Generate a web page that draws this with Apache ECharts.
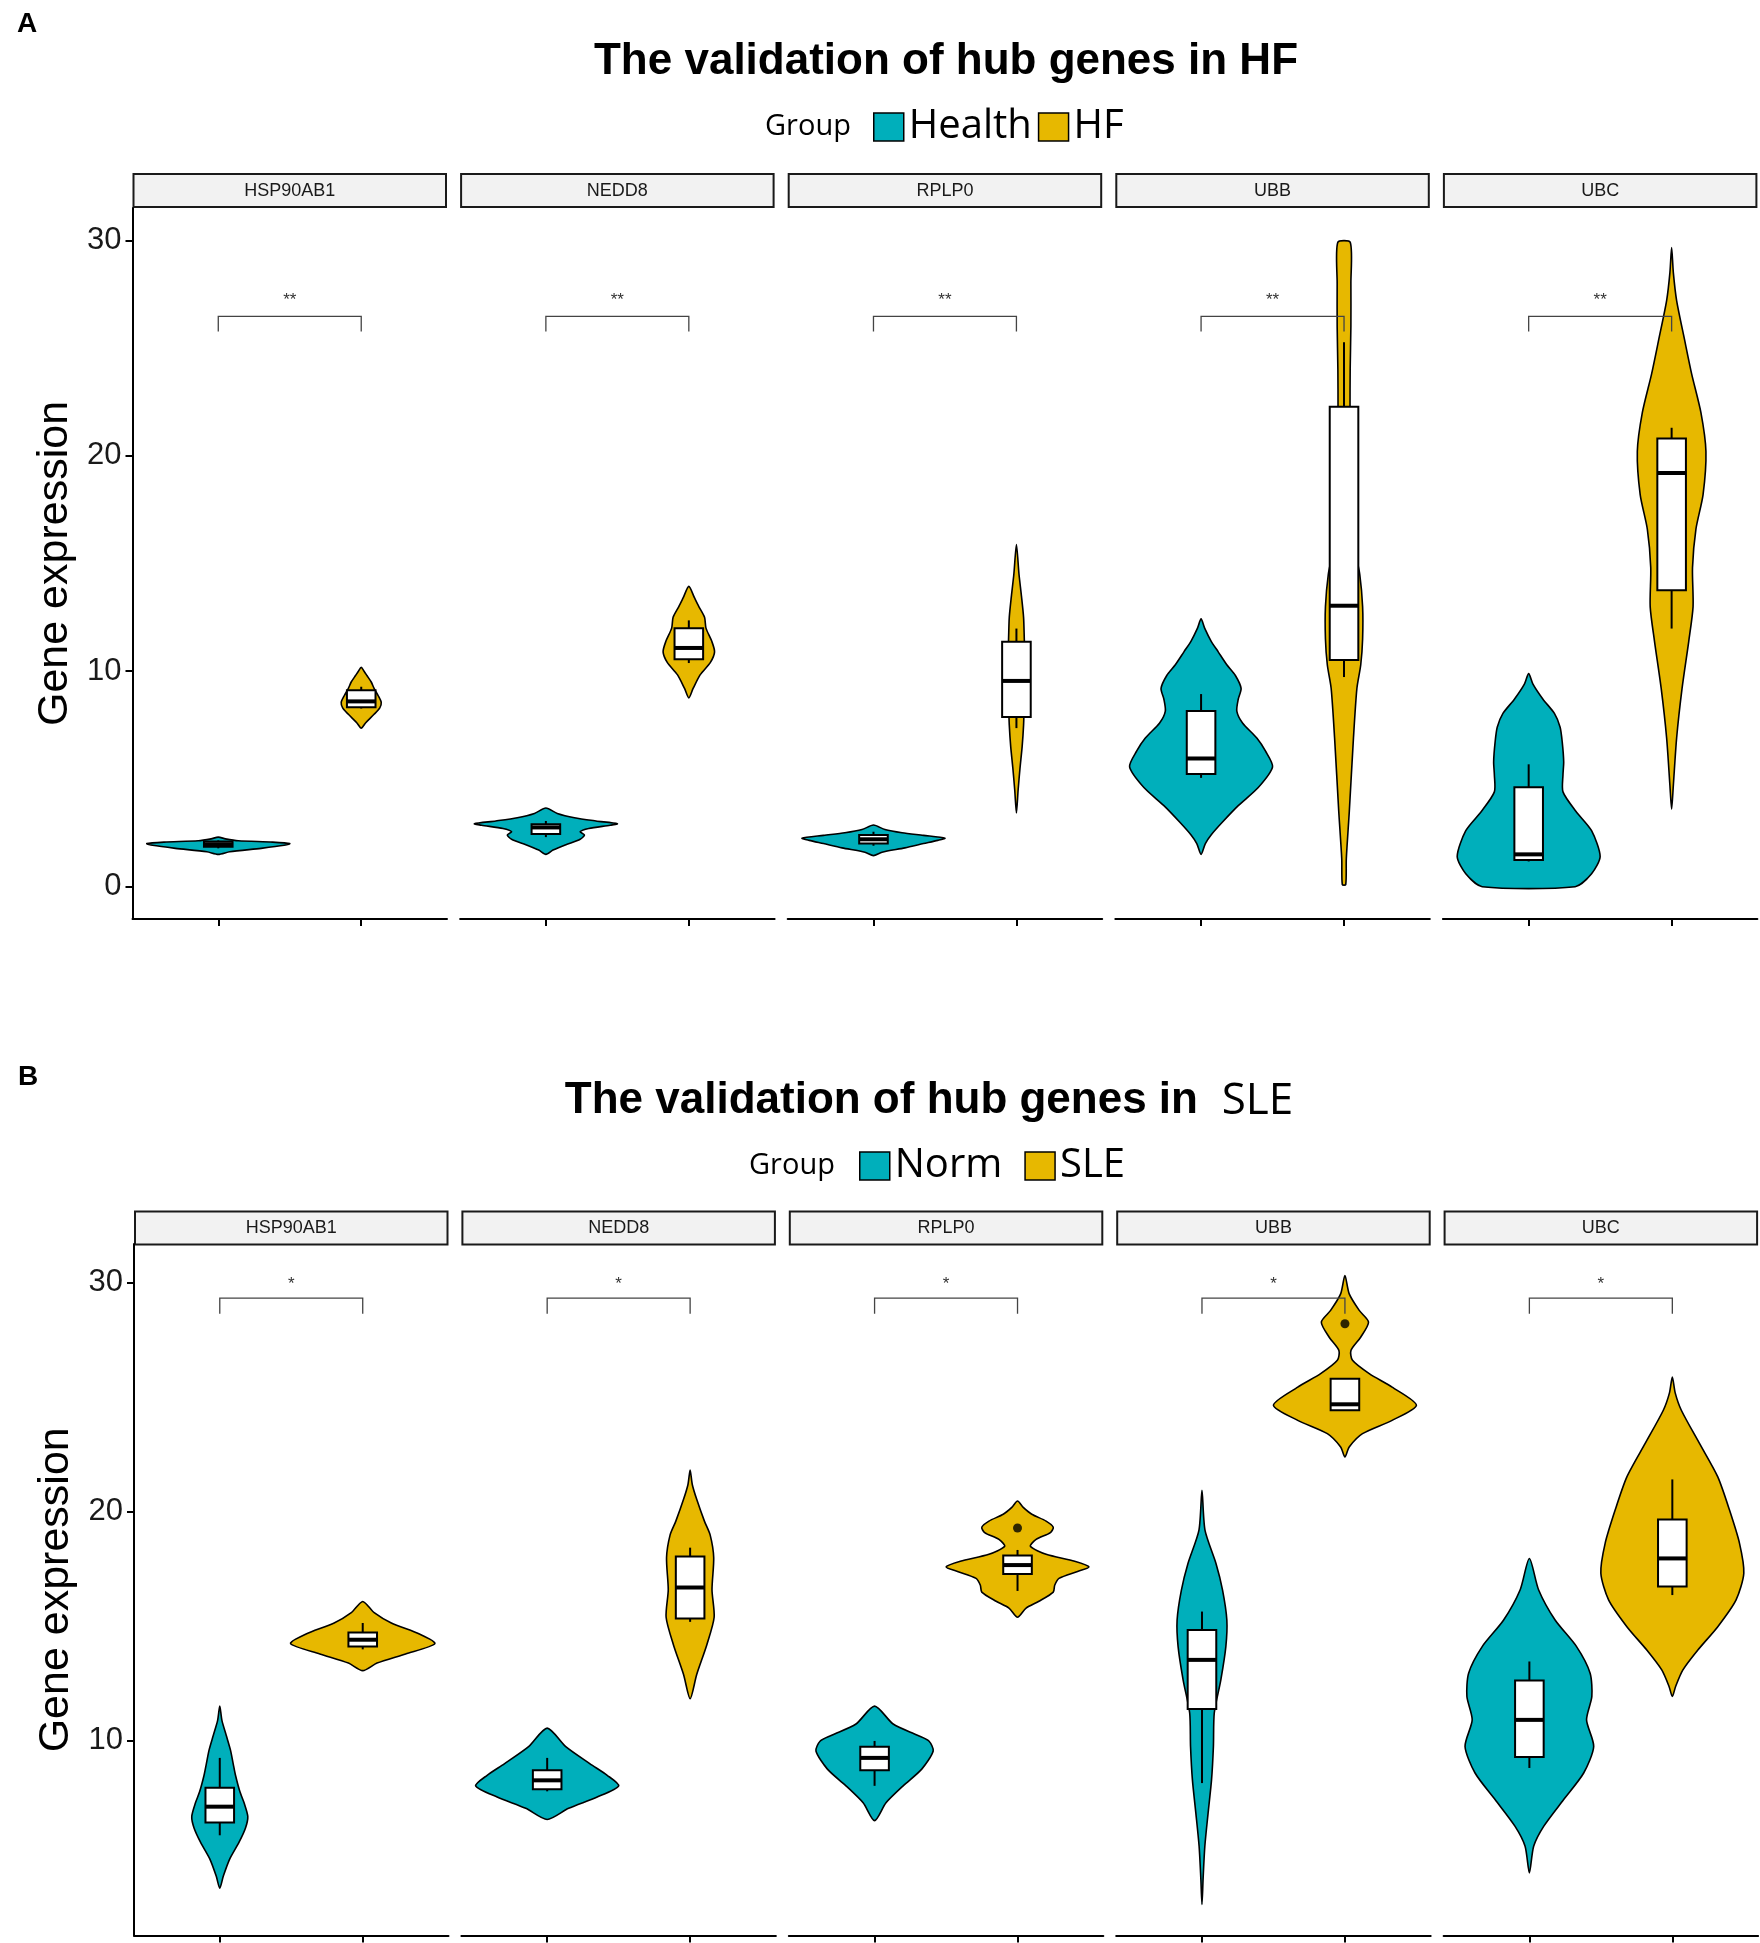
<!DOCTYPE html>
<html>
<head>
<meta charset="utf-8">
<title>The validation of hub genes</title>
<script src="https://cdn.jsdelivr.net/npm/echarts@6.0.0/dist/echarts.min.js"></script>
<style>
  html, body { margin: 0; padding: 0; background: #fff; }
  #main { width: 1760px; height: 1943px; }
</style>
</head>
<body>
<div id="main"></div>
<script>
var genes = ['HSP90AB1', 'NEDD8', 'RPLP0', 'UBB', 'UBC'];
var groupsHF = ['Health', 'HF'];
var groupsSLE = ['Norm', 'SLE'];
var ticksHF = [0, 10, 20, 30];
var ticksSLE = [10, 20, 30];
var signifHF = '**';
var signifSLE = '*';
// bracket: [leg end, bar, label]
var bracketHF = [25.77, 26.47, 27.2];
var bracketSLE = [28.65, 29.34, 29.95];

// violin outlines, bottom to top: [expression, half width in category units]
var violinHealth = [
  [[1.5,0],[1.62,0.08],[1.78,0.3],[1.92,0.46],[2.0,0.5],[2.07,0.38],[2.13,0.14],[2.22,0.05],[2.3,0]],
  [[1.5,0],[1.7,0.05],[1.95,0.14],[2.2,0.24],[2.4,0.27],[2.55,0.24],[2.7,0.3],[2.85,0.45],[2.92,0.5],[3.05,0.35],[3.2,0.2],[3.4,0.08],[3.65,0]],
  [[1.44,0],[1.6,0.06],[1.8,0.22],[2.0,0.35],[2.15,0.45],[2.25,0.5],[2.38,0.35],[2.5,0.2],[2.65,0.08],[2.86,0]],
  [[1.5,0],[2.0,0.03],[2.4,0.07],[3.0,0.15],[3.76,0.26],[4.6,0.4],[5.56,0.5],[6.3,0.45],[6.9,0.39],[7.6,0.29],[8.15,0.25],[8.7,0.26],[9.2,0.28],[9.8,0.24],[10.3,0.18],[10.9,0.12],[11.4,0.07],[12.0,0.025],[12.43,0]],
  [[0,0.325],[0.6,0.44],[1.4,0.5],[2.6,0.44],[3.5,0.33],[4.4,0.24],[5.2,0.24],[5.8,0.245],[6.7,0.235],[7.4,0.22],[8.04,0.18],[8.7,0.1],[9.4,0.03],[9.89,0]]
];
var violinHF = [
  [[7.36,0],[7.6,0.03],[8.0,0.09],[8.3,0.13],[8.55,0.14],[8.85,0.12],[9.2,0.09],[9.5,0.07],[9.8,0.04],[10.0,0.02],[10.18,0]],
  [[8.76,0],[9.2,0.03],[9.84,0.08],[10.4,0.15],[10.9,0.18],[11.4,0.16],[12.0,0.12],[12.5,0.11],[13.0,0.07],[13.4,0.04],[13.94,0]],
  [[3.42,0],[4.5,0.012],[5.5,0.025],[6.5,0.04],[7.5,0.05],[8.5,0.055],[9.5,0.06],[10.5,0.06],[11.5,0.055],[12.5,0.05],[13.5,0.035],[14.5,0.018],[15.88,0]],
  [[0.1,0.012],[1.3,0.016],[3.5,0.037],[6.9,0.066],[9.2,0.09],[10.3,0.117],[11.5,0.13],[13,0.13],[14.5,0.11],[15.5,0.08],[16.5,0.06],[18,0.05],[20,0.045],[22.2,0.042],[24,0.043],[26,0.048],[28,0.048],[29.9,0.044]],
  [[3.6,0],[4.7,0.012],[6.9,0.035],[9.2,0.073],[11.4,0.12],[13,0.15],[14.8,0.146],[16.6,0.17],[18.2,0.22],[20.2,0.24],[22,0.205],[23.8,0.14],[25.4,0.09],[27.2,0.035],[28.5,0.012],[29.66,0]]
];
var violinNorm = [
  [[3.57,0],[4.1,0.025],[4.85,0.07],[5.58,0.135],[6.2,0.18],[6.7,0.196],[7.3,0.17],[7.8,0.14],[8.5,0.11],[9.0,0.094],[9.6,0.075],[10.25,0.045],[10.9,0.015],[11.52,0]],
  [[6.57,0],[7.06,0.15],[7.55,0.35],[8.04,0.5],[8.5,0.42],[9.0,0.3],[9.75,0.13],[10.56,0]],
  [[6.52,0],[7.3,0.08],[8.04,0.2],[8.77,0.33],[9.56,0.41],[10.0,0.38],[10.25,0.3],[10.74,0.13],[11.52,0]],
  [[2.86,0],[4.0,0.008],[5.4,0.02],[6.86,0.043],[8.31,0.067],[9.76,0.08],[11.22,0.086],[12.67,0.132],[14.12,0.167],[15.28,0.174],[16.59,0.144],[17.75,0.098],[19.21,0.021],[20.95,0]],
  [[4.24,0],[5.4,0.03],[6.27,0.1],[7.44,0.24],[8.6,0.38],[9.76,0.45],[10.92,0.4],[11.94,0.437],[12.96,0.425],[14.12,0.33],[15.28,0.18],[16.59,0.065],[17.97,0]]
];
var violinSLE = [
  [[13.07,0],[13.4,0.1],[13.8,0.3],[14.25,0.505],[14.66,0.4],[15.15,0.2],[15.6,0.08],[16.09,0]],
  [[11.84,0],[12.9,0.046],[14.2,0.117],[15.4,0.168],[16.6,0.153],[18.0,0.165],[19.0,0.14],[19.6,0.1],[20.55,0.046],[21.2,0.015],[21.83,0]],
  [[15.4,0],[15.8,0.06],[16.1,0.15],[16.5,0.25],[16.8,0.26],[17.1,0.29],[17.4,0.42],[17.6,0.5],[17.85,0.4],[18.15,0.2],[18.5,0.09],[18.8,0.13],[19.1,0.23],[19.33,0.25],[19.6,0.2],[19.9,0.1],[20.2,0.04],[20.48,0]],
  [[22.4,0],[22.84,0.03],[23.42,0.123],[24.0,0.33],[24.66,0.5],[25.45,0.33],[26.04,0.17],[26.62,0.053],[27.05,0.042],[27.63,0.11],[28.29,0.165],[28.8,0.1],[29.52,0.03],[30.32,0]],
  [[11.94,0],[12.38,0.023],[13.1,0.074],[13.98,0.18],[14.99,0.318],[16.16,0.446],[17.32,0.5],[18.63,0.47],[20.08,0.4],[21.53,0.318],[22.99,0.19],[24.44,0.063],[25.2,0.02],[25.89,0]]
];

// boxes: [lower whisker, q1, median, q3, upper whisker]
var boxHealth = [[1.78,1.85,1.97,2.1,2.15],[2.3,2.45,2.75,2.9,3.05],[1.9,2.0,2.2,2.4,2.55],[5.05,5.23,5.95,8.15,8.94],[1.17,1.24,1.5,4.62,5.68]];
var boxHF = [[8.27,8.33,8.6,9.12,9.28],[10.38,10.56,11.08,12.0,12.36],[7.36,7.88,9.55,11.37,11.98],[9.73,10.52,13.04,22.27,25.27],[11.98,13.76,19.2,20.8,21.3]];
var boxNorm = [[5.88,6.44,7.13,7.96,9.26],[7.8,7.89,8.28,8.72,9.26],[8.04,8.72,9.26,9.75,10.0],[8.16,11.39,13.54,14.85,15.65],[8.82,9.3,10.92,12.64,13.47]];
var boxSLE = [[14.0,14.12,14.42,14.74,15.15],[15.2,15.35,16.7,18.05,18.44],[16.55,17.29,17.68,18.1,18.34],[24.44,24.44,24.7,25.82,25.82],[16.37,16.74,17.97,19.67,21.42]];
// outliers: [gene index, value]
var outliersSLE = [[2, 19.3], [3, 28.22]];

var teal = '#00AFBB', gold = '#E7B800';
var facetW = 314.5;

var panels = [
  { lefts: [132.5, 460.1, 787.7, 1115.3, 1442.9], top: 208, height: 711, stripTop: 174,
    min: -1.5, max: 31.5, ticks: ticksHF, groups: groupsHF,
    violins: [violinHealth, violinHF], boxes: [boxHealth, boxHF],
    signif: signifHF, bracket: bracketHF, outliers: [] },
  { lefts: [134, 461.4, 788.8, 1116.2, 1443.6], top: 1244, height: 691.6, stripTop: 1211.5,
    min: 1.5, max: 31.7, ticks: ticksSLE, groups: groupsSLE,
    violins: [violinNorm, violinSLE], boxes: [boxNorm, boxSLE],
    signif: signifSLE, bracket: bracketSLE, outliers: outliersSLE }
];

function violinItem(profile, box, xc, color) {
  return function (params, api) {
    var pts = [];
    profile.forEach(function (d) { pts.push(api.coord([xc - d[1], d[0]])); });
    for (var k = profile.length - 1; k >= 0; k--) {
      if (profile[k][1] > 0) pts.push(api.coord([xc + profile[k][1], profile[k][0]]));
    }
    var bw = 0.1;
    var tl = api.coord([xc - bw, box[3]]), br = api.coord([xc + bw, box[1]]);
    var ml = api.coord([xc - bw, box[2]]), mr = api.coord([xc + bw, box[2]]);
    var wt = api.coord([xc, box[4]]), q3 = api.coord([xc, box[3]]);
    var wb = api.coord([xc, box[0]]), q1 = api.coord([xc, box[1]]);
    return {
      type: 'group',
      children: [
        { type: 'polygon', shape: { points: pts, smooth: 0.25 },
          style: { fill: color, stroke: '#000', lineWidth: 1.6 } },
        { type: 'line', shape: { x1: wt[0], y1: wt[1], x2: q3[0], y2: q3[1] },
          style: { stroke: '#000', lineWidth: 2 } },
        { type: 'line', shape: { x1: q1[0], y1: q1[1], x2: wb[0], y2: wb[1] },
          style: { stroke: '#000', lineWidth: 2 } },
        { type: 'rect', shape: { x: tl[0], y: tl[1], width: br[0] - tl[0], height: br[1] - tl[1] },
          style: { fill: '#fff', stroke: '#000', lineWidth: 2 } },
        { type: 'line', shape: { x1: ml[0], y1: ml[1], x2: mr[0], y2: mr[1] },
          style: { stroke: '#000', lineWidth: 4 } }
      ]
    };
  };
}

function bracketItem(br, label) {
  return function (params, api) {
    var a = api.coord([1, br[0]]), b = api.coord([1, br[1]]);
    var c = api.coord([2, br[1]]), d = api.coord([2, br[0]]);
    var t = api.coord([1.5, br[2]]);
    return {
      type: 'group',
      children: [
        { type: 'polyline', shape: { points: [a, b, c, d] },
          style: { stroke: '#444', lineWidth: 1.3, fill: 'none' } },
        { type: 'text', x: t[0], y: t[1],
          style: { text: label, fontSize: 17, fontFamily: 'Liberation Sans', fill: '#333',
                   align: 'center', verticalAlign: 'middle' } }
      ]
    };
  };
}

var grids = [], xAxes = [], yAxes = [], series = [], graphics = [];

panels.forEach(function (p, pi) {
  genes.forEach(function (g, i) {
    var idx = pi * 5 + i;
    grids.push({ left: p.lefts[i], top: p.top, width: facetW, height: p.height });
    xAxes.push({
      type: 'value', gridIndex: idx, min: 0.4, max: 2.6,
      axisLine: { show: true, onZero: false, lineStyle: { color: '#000', width: 2 } },
      axisTick: { show: true, length: 7, customValues: [1, 2], lineStyle: { color: '#000', width: 2 } },
      axisLabel: { show: false },
      splitLine: { show: false }
    });
    var first = i === 0;
    yAxes.push({
      type: 'value', gridIndex: idx, min: p.min, max: p.max,
      name: first ? 'Gene expression' : '',
      nameLocation: 'middle', nameGap: 56,
      nameTextStyle: { fontSize: 43, fontFamily: 'Liberation Sans', color: '#000' },
      axisLine: { show: first, onZero: false, lineStyle: { color: '#000', width: 2 } },
      axisTick: { show: first, length: 7, customValues: p.ticks, lineStyle: { color: '#000', width: 2 } },
      axisLabel: { show: first, customValues: p.ticks, margin: 11, fontSize: 31,
                   fontFamily: 'Liberation Sans', color: '#1a1a1a' },
      splitLine: { show: false }
    });
    [0, 1].forEach(function (k) {
      var col = k === 0 ? teal : gold;
      series.push({
        type: 'custom', name: p.groups[k], xAxisIndex: idx, yAxisIndex: idx,
        itemStyle: { color: col, borderColor: '#000', borderWidth: 1.5 },
        data: [[k + 1, p.boxes[k][i][2]]],
        renderItem: violinItem(p.violins[k][i], p.boxes[k][i], k + 1, col),
        silent: true
      });
    });
    var pts = p.outliers.filter(function (o) { return o[0] === i; })
                        .map(function (o) { return [2, o[1]]; });
    if (pts.length) {
      series.push({ type: 'scatter', xAxisIndex: idx, yAxisIndex: idx, data: pts,
                    symbolSize: 9, itemStyle: { color: '#000' }, silent: true, z: 5 });
    }
    series.push({
      type: 'custom', xAxisIndex: idx, yAxisIndex: idx, data: [[1.5, p.bracket[1]]],
      renderItem: bracketItem(p.bracket, p.signif), silent: true, z: 4
    });
    // facet strip
    graphics.push({ type: 'rect', shape: { x: p.lefts[i] + 1, y: p.stripTop, width: facetW - 2, height: 33 },
                    style: { fill: '#F2F2F2', stroke: '#1a1a1a', lineWidth: 2 } });
    graphics.push({ type: 'text', x: p.lefts[i] + facetW / 2, y: p.stripTop + 17,
                    style: { text: g, fontSize: 18, fontFamily: 'Liberation Sans', fill: '#1a1a1a',
                             align: 'center', verticalAlign: 'middle' } });
  });
});

graphics.push(
  { type: 'text', x: 17, y: 24, style: { text: 'A', fontSize: 28, fontWeight: 'bold',
    fontFamily: 'Liberation Sans', fill: '#000', align: 'left', verticalAlign: 'middle' } },
  { type: 'text', x: 18, y: 1077, style: { text: 'B', fontSize: 28, fontWeight: 'bold',
    fontFamily: 'Liberation Sans', fill: '#000', align: 'left', verticalAlign: 'middle' } },
  { type: 'text', x: 946, y: 62, style: { text: 'The validation of hub genes in HF', fontSize: 44,
    fontWeight: 'bold', fontFamily: 'Liberation Sans', fill: '#000', align: 'center', verticalAlign: 'middle' } },
  { type: 'text', x: 929, y: 1101, style: {
    text: '{b|The validation of hub genes in }{s| SLE}',
    rich: { b: { fontSize: 44, fontWeight: 'bold', fontFamily: 'Liberation Sans', fill: '#000' },
            s: { fontSize: 44, fontFamily: 'Open Sans', fill: '#000' } },
    align: 'center', verticalAlign: 'middle' } },
  { type: 'text', x: 765, y: 127, style: { text: 'Group', fontSize: 29, fontFamily: 'Open Sans',
    fill: '#000', align: 'left', verticalAlign: 'middle' } },
  { type: 'text', x: 749, y: 1166, style: { text: 'Group', fontSize: 29, fontFamily: 'Open Sans',
    fill: '#000', align: 'left', verticalAlign: 'middle' } }
);

var legendBase = {
  orient: 'horizontal', icon: 'rect', itemWidth: 30, itemHeight: 28,
  selectedMode: false,
  itemStyle: { borderColor: '#000', borderWidth: 1.5 },
  textStyle: { fontSize: 40, fontFamily: 'Open Sans', color: '#000' }
};

var chart = echarts.init(document.getElementById('main'));
chart.setOption({
  backgroundColor: '#fff',
  animation: false,
  grid: grids,
  xAxis: xAxes,
  yAxis: yAxes,
  legend: [
    Object.assign({}, legendBase, { data: groupsHF, left: 868, top: 102, itemGap: 6 }),
    Object.assign({}, legendBase, { data: groupsSLE, left: 854, top: 1141, itemGap: 22 })
  ],
  graphic: graphics,
  series: series
});
</script>
</body>
</html>
